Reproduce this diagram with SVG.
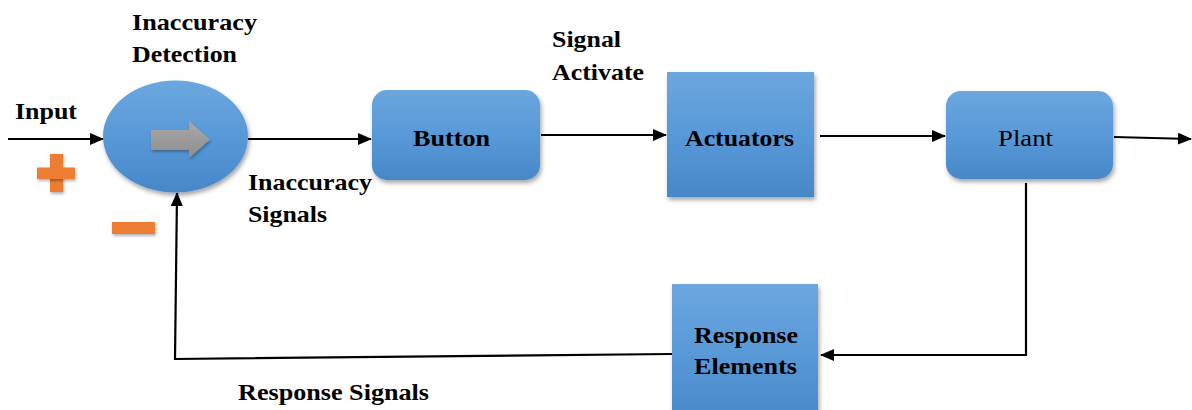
<svg xmlns="http://www.w3.org/2000/svg" width="1192" height="410" viewBox="0 0 1192 410">
  <defs>
    <linearGradient id="blueFill" x1="0" y1="0" x2="0" y2="1">
      <stop offset="0" stop-color="#6ca7de"/>
      <stop offset="0.5" stop-color="#5899d8"/>
      <stop offset="1" stop-color="#4787c8"/>
    </linearGradient>
    <linearGradient id="greyFill" x1="0" y1="0" x2="0" y2="1">
      <stop offset="0" stop-color="#a8a8a8"/>
      <stop offset="1" stop-color="#8e8e8e"/>
    </linearGradient>
    <filter id="shadow" x="-20%" y="-20%" width="140%" height="140%">
      <feDropShadow dx="1.5" dy="3" stdDeviation="2.2" flood-color="#000" flood-opacity="0.35"/>
    </filter>
    <filter id="softShadow" x="-30%" y="-30%" width="160%" height="160%">
      <feDropShadow dx="1" dy="2" stdDeviation="1.5" flood-color="#000" flood-opacity="0.3"/>
    </filter>
    <marker id="arrow" markerUnits="userSpaceOnUse" markerWidth="14" markerHeight="12" refX="13" refY="6" orient="auto">
      <path d="M0,0 L14,6 L0,12 Z" fill="#000"/>
    </marker>
  </defs>
  <style>
    text { font-family: 'Liberation Serif', 'Times New Roman', serif; font-size: 22.5px; font-weight: 700; fill: #000; }
    text.reg { font-weight: 400; }
    .block { fill: url(#blueFill); filter: url(#shadow); }
    .wire { fill: none; stroke: #000; stroke-width: 2.2; }
    .sign { fill: #ed7d31; filter: url(#softShadow); }
  </style>

  <rect width="1192" height="410" fill="#fff"/>

  <!-- connectors -->
  <g id="connectors">
    <line class="wire" x1="8" y1="139" x2="103" y2="139" marker-end="url(#arrow)"/>
    <line class="wire" x1="248" y1="139" x2="371" y2="139" marker-end="url(#arrow)"/>
    <line class="wire" x1="541" y1="135" x2="666" y2="135" marker-end="url(#arrow)"/>
    <line class="wire" x1="820" y1="136" x2="945" y2="136" marker-end="url(#arrow)"/>
    <line class="wire" x1="1114" y1="137" x2="1191" y2="139" marker-end="url(#arrow)"/>
    <polyline class="wire" points="1026,183 1026,355 821,355" marker-end="url(#arrow)"/>
    <polyline class="wire" points="672,354 175,359 177,193" marker-end="url(#arrow)"/>
  </g>

  <!-- summing junction -->
  <g id="node-detection">
    <ellipse class="block" cx="175.5" cy="136.5" rx="72.5" ry="56"/>
    <path d="M151,130 L189,130 L189,121 L210,139.5 L189,158 L189,150 L151,150 Z" fill="url(#greyFill)" filter="url(#softShadow)"/>
  </g>

  <!-- plus / minus signs -->
  <g id="sign-plus">
    <rect class="sign" x="50" y="154" width="13" height="38"/>
    <rect class="sign" x="37" y="167.5" width="38" height="11.5"/>
  </g>
  <g id="sign-minus">
    <rect class="sign" x="112" y="222" width="43" height="12"/>
  </g>

  <g id="node-button">
    <rect class="block" x="372" y="90" width="168" height="90" rx="15" ry="15"/>
    <text x="413" y="146" textLength="77" lengthAdjust="spacingAndGlyphs">Button</text>
  </g>

  <g id="node-actuators">
    <rect class="block" x="667" y="72" width="147" height="125"/>
    <text x="685" y="146" textLength="109" lengthAdjust="spacingAndGlyphs">Actuators</text>
  </g>

  <g id="node-plant">
    <rect class="block" x="946" y="91" width="167" height="88" rx="15" ry="15"/>
    <text class="reg" x="998" y="146" textLength="55" lengthAdjust="spacingAndGlyphs">Plant</text>
  </g>

  <g id="node-response">
    <rect class="block" x="672" y="284" width="146" height="140"/>
    <text x="694" y="343" textLength="104" lengthAdjust="spacingAndGlyphs">Response</text>
    <text x="694" y="374" textLength="103" lengthAdjust="spacingAndGlyphs">Elements</text>
  </g>

  <!-- signal labels -->
  <g id="labels">
    <text x="15" y="119" textLength="62" lengthAdjust="spacingAndGlyphs">Input</text>
    <text x="132" y="30" textLength="125" lengthAdjust="spacingAndGlyphs">Inaccuracy</text>
    <text x="132" y="62" textLength="105" lengthAdjust="spacingAndGlyphs">Detection</text>
    <text x="248" y="190" textLength="124" lengthAdjust="spacingAndGlyphs">Inaccuracy</text>
    <text x="248" y="222" textLength="79" lengthAdjust="spacingAndGlyphs">Signals</text>
    <text x="552" y="47" textLength="69" lengthAdjust="spacingAndGlyphs">Signal</text>
    <text x="552" y="80" textLength="92" lengthAdjust="spacingAndGlyphs">Activate</text>
    <text x="238" y="400" textLength="191" lengthAdjust="spacingAndGlyphs">Response Signals</text>
  </g>
</svg>
